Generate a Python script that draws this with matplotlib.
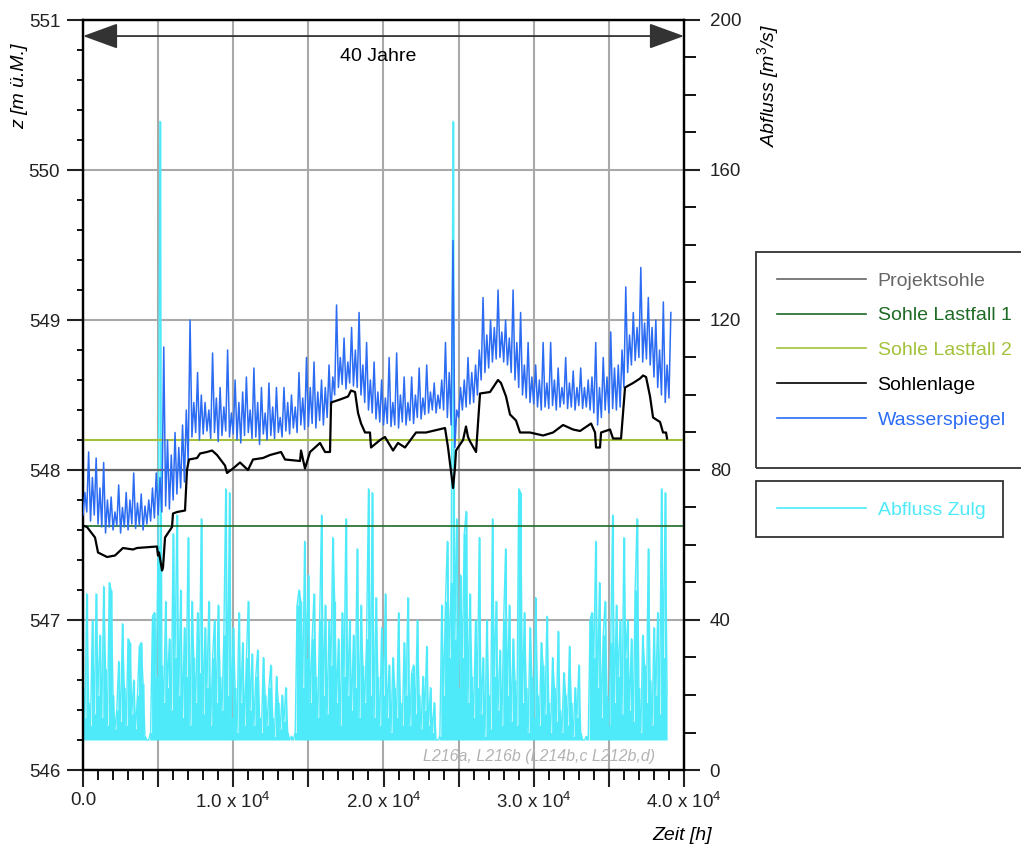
import numpy as np
import matplotlib
matplotlib.use('Agg')
import matplotlib.pyplot as plt
from matplotlib.ticker import MultipleLocator, FuncFormatter
from matplotlib.patches import Rectangle
from matplotlib.lines import Line2D

plt.rcParams['font.family'] = ['Liberation Sans', 'DejaVu Sans']
plt.rcParams['mathtext.fontset'] = 'custom'
plt.rcParams['mathtext.rm'] = 'Liberation Sans'
plt.rcParams['mathtext.it'] = 'Liberation Sans:italic'

# Wasserspiegel [m ü.M.], Raster 125 h
wsp_dt = 125
wasserspiegel = [
    547.70, 547.85, 547.72, 548.12, 547.66, 547.95, 547.70, 548.08, 547.64, 547.88,
    547.62, 548.05, 547.58, 547.80, 547.62, 547.82, 547.60, 547.72, 547.63, 547.90,
    547.58, 547.75, 547.62, 547.85, 547.60, 547.80, 547.64, 547.98, 547.61, 547.78,
    547.63, 547.84, 547.60, 547.76, 547.64, 547.80, 547.66, 547.88, 547.68, 547.98,
    547.70, 547.95, 547.72, 548.82, 547.76, 548.20, 547.74, 548.10, 547.80, 548.25,
    547.84, 548.15, 547.88, 548.30, 547.92, 548.40, 548.05, 549.00, 548.22, 548.45,
    548.25, 548.65, 548.20, 548.50, 548.24, 548.45, 548.26, 548.40, 548.21, 548.78,
    548.25, 548.48, 548.19, 548.55, 548.23, 548.42, 548.26, 548.80, 548.22, 548.38,
    548.24, 548.60, 548.20, 548.45, 548.18, 548.52, 548.23, 548.62, 548.25, 548.40,
    548.21, 548.68, 548.22, 548.45, 548.17, 548.55, 548.24, 548.38, 548.20, 548.58,
    548.23, 548.42, 548.21, 548.55, 548.25, 548.35, 548.22, 548.55, 548.26, 548.45,
    548.24, 548.50, 548.28, 548.42, 548.25, 548.65, 548.30, 548.48, 548.27, 548.75,
    548.29, 548.55, 548.31, 548.72, 548.28, 548.52, 548.33, 548.60, 548.30, 548.55,
    548.35, 548.70, 548.38, 548.62, 548.50, 549.10, 548.55, 548.75, 548.57, 548.88,
    548.54, 548.72, 548.58, 548.95, 548.56, 548.80, 548.55, 549.05, 548.50, 548.70,
    548.45, 548.85, 548.40, 548.60, 548.38, 548.72, 548.34, 548.52, 548.32, 548.60,
    548.30, 548.48, 548.31, 548.75, 548.29, 548.45, 548.30, 548.78, 548.28, 548.50,
    548.32, 548.62, 548.30, 548.45, 548.33, 548.62, 548.31, 548.50, 548.35, 548.68,
    548.34, 548.48, 548.37, 548.70, 548.38, 548.52, 548.40, 548.58, 548.38, 548.50,
    548.41, 548.60, 548.40, 548.85, 548.35, 548.65, 548.30, 549.53, 548.15, 548.40,
    548.35, 548.55, 548.40, 548.60, 548.42, 548.75, 548.44, 548.65, 548.45, 548.70,
    548.50, 548.80, 548.60, 549.15, 548.65, 548.90, 548.68, 549.00, 548.72, 548.95,
    548.74, 549.20, 548.75, 548.92, 548.72, 549.00, 548.70, 548.88, 548.65, 549.20,
    548.60, 548.85, 548.55, 549.05, 548.50, 548.70, 548.48, 548.85, 548.45, 548.62,
    548.44, 548.70, 548.42, 548.60, 548.40, 548.85, 548.42, 548.58, 548.41, 548.85,
    548.43, 548.60, 548.40, 548.68, 548.42, 548.55, 548.44, 548.75, 548.41, 548.58,
    548.42, 548.66, 548.40, 548.55, 548.43, 548.68, 548.41, 548.55, 548.42, 548.60,
    548.40, 548.62, 548.38, 548.85, 548.30, 548.55, 548.35, 548.75, 548.40, 548.62,
    548.38, 548.92, 548.41, 548.68, 548.40, 548.70, 548.42, 548.80, 548.55, 549.22,
    548.65, 548.90, 548.70, 549.05, 548.73, 548.95, 548.75, 549.35, 548.72, 548.98,
    548.74, 549.15, 548.70, 548.95, 548.62, 549.00, 548.55, 548.80, 548.50, 549.12,
    548.45, 548.70, 548.48, 549.05,
]

# Abfluss Zulg [m3/s], Raster 125 h
abfluss_dt = 125
abfluss = [
    22, 14, 47, 18, 12, 40, 15, 47, 20, 36,
    14, 49, 27, 12, 50, 48, 20, 11, 16, 29,
    13, 39, 22, 12, 35, 34, 15, 24, 11, 20,
    33, 34, 23, 9, 8, 8, 10, 41, 42, 25,
    60, 173, 28, 18, 45, 22, 35, 16, 63, 30,
    68, 20, 48, 14, 38, 25, 62, 12, 45, 30,
    18, 42, 26, 67, 15, 38, 22, 45, 12, 30,
    40, 18, 44, 25, 16, 36, 75, 20, 74, 14,
    38, 22, 10, 42, 18, 34, 12, 30, 45, 16,
    31, 12, 25, 32, 14, 10, 30, 20, 12, 22,
    28, 14, 9, 25, 18, 11, 20, 13, 22, 10,
    8, 9, 8, 10, 44, 48, 45, 22, 61, 30,
    52, 18, 35, 47, 25, 14, 40, 68, 20, 44,
    15, 40, 28, 62, 45, 18, 35, 12, 42, 25,
    67, 20, 40, 16, 36, 22, 59, 14, 44, 28,
    18, 35, 75, 20, 74, 14, 46, 25, 12, 38,
    20, 47, 14, 28, 10, 30, 22, 14, 42, 18,
    12, 34, 20, 46, 12, 26, 28, 15, 40, 20,
    11, 25, 16, 33, 12, 22, 10, 18, 8, 8,
    9, 44, 20, 45, 61, 30, 50, 173, 35, 67,
    22, 52, 30, 63, 69, 18, 47, 25, 14, 40,
    22, 62, 15, 30, 9, 40, 20, 11, 67, 25,
    45, 16, 32, 12, 40, 59, 20, 44, 13, 35,
    24, 12, 75, 74, 18, 42, 22, 10, 38, 25,
    14, 46, 20, 12, 34, 28, 15, 41, 18, 10,
    30, 22, 13, 37, 16, 10, 26, 20, 12, 33,
    18, 9, 22, 14, 28, 10, 8, 8, 9, 8,
    40, 42, 30, 61, 22, 50, 14, 36, 45, 20,
    12, 34, 68, 18, 44, 25, 40, 15, 62, 30,
    40, 16, 35, 13, 48, 67, 22, 10, 36, 28,
    18, 59, 24, 12, 38, 20, 42, 15, 75, 30,
    74, 20,
]
abfluss_min = 8.0

# Sohlenlage: Zeit [h] / Kote [m ü.M.]
sohle_t = [0, 266, 800, 1000, 1600, 2130, 2660, 3330, 3590, 4925, 4990, 5060, 5260, 5325,
           5460, 5660, 5925, 5990, 6260, 6790, 6920, 7055, 7590, 7790, 8250, 8590, 8920,
           9450, 9585, 9985, 10450, 10980, 11315, 11980, 12450, 13180, 13445, 14445, 14510,
           14775, 15110, 15775, 16110, 16440, 16510, 17105, 17640, 17840, 18105, 18305,
           18505, 18770, 19100, 19170, 19770, 20100, 20635, 20965, 21430, 22165, 22830,
           24095, 24295, 24630, 24760, 24825, 25295, 25490, 25625, 25760, 26160, 26425,
           27090, 27620, 27820, 28155, 28420, 28820, 29085, 29750, 30620, 31285, 31950,
           32615, 33080, 33815, 34080, 34145, 34410, 34480, 35075, 35275, 35810, 36075,
           36610, 37075, 37275, 37475, 37740, 37940, 38405, 38605, 38805, 38870]
sohle_z = [547.63, 547.62, 547.55, 547.45, 547.42, 547.43, 547.48, 547.47, 547.48, 547.49,
           547.43, 547.45, 547.33, 547.35, 547.55, 547.58, 547.62, 547.71, 547.72, 547.73,
           548.00, 548.07, 548.08, 548.11, 548.12, 548.13, 548.10, 548.03, 547.98, 548.01,
           548.05, 548.00, 548.07, 548.08, 548.10, 548.12, 548.07, 548.06, 548.13, 548.01,
           548.12, 548.18, 548.12, 548.12, 548.45, 548.47, 548.49, 548.53, 548.52, 548.38,
           548.31, 548.25, 548.25, 548.15, 548.20, 548.22, 548.13, 548.18, 548.15, 548.25,
           548.25, 548.28, 548.15, 547.88, 548.02, 548.13, 548.20, 548.29, 548.22, 548.19,
           548.12, 548.51, 548.52, 548.60, 548.58, 548.49, 548.37, 548.33, 548.25, 548.25,
           548.23, 548.25, 548.30, 548.27, 548.26, 548.31, 548.25, 548.15, 548.15, 548.25,
           548.27, 548.21, 548.21, 548.55, 548.58, 548.61, 548.63, 548.62, 548.49, 548.35,
           548.32, 548.25, 548.25, 548.21]

projektsohle = 548.0
sohle_lastfall1 = 547.63
sohle_lastfall2 = 548.20

t_wsp = np.arange(len(wasserspiegel)) * wsp_dt
t_q = np.arange(len(abfluss)) * abfluss_dt

c_blue = '#2b6cf3'
c_cyan = '#4feafa'
c_green1 = '#1d6b25'
c_green2 = '#a3c23a'
c_proj = '#666666'

fig = plt.figure(figsize=(10.21, 8.47), dpi=100)
L, R, T, B = 83 / 1021, 684 / 1021, 20 / 847, 770 / 847
ax = fig.add_axes([L, 1 - B, R - L, B - T])
ax2 = ax.twinx()
ax2.set_zorder(1)
ax.set_zorder(2)
ax.patch.set_visible(False)
ax2.patch.set_visible(True)
ax2.patch.set_facecolor('white')
ax2.xaxis.set_visible(True)

# Abfluss (rechte Achse)
ax2.fill_between(t_q, abfluss_min, abfluss, step='mid', color=c_cyan, lw=0, zorder=2)
ax2.plot(t_q, abfluss, color=c_cyan, lw=1.0, zorder=2)
ax2.set_ylim(0, 200)

# Hoehen (linke Achse)
ax.axhline(projektsohle, color=c_proj, lw=1.6, zorder=2)
ax.axhline(sohle_lastfall1, color=c_green1, lw=1.2, zorder=2)
ax.axhline(sohle_lastfall2, color=c_green2, lw=1.5, zorder=2)
ax.plot(t_wsp, wasserspiegel, color=c_blue, lw=1.1, zorder=3)
ax.plot(sohle_t, sohle_z, color='black', lw=1.6, zorder=4)
ax.set_xlim(0, 40000)
ax.set_ylim(546, 551)

# Achsen / Ticks
ax.xaxis.set_major_locator(MultipleLocator(5000))
ax.xaxis.set_minor_locator(MultipleLocator(1000))


def fmt_x(v, pos):
    if abs(v) < 1:
        return '0.0'
    if abs(v % 10000) < 1:
        return f'{v / 10000:.1f} x 10$^{{4}}$'
    return ''


ax.xaxis.set_major_formatter(FuncFormatter(fmt_x))
ax.yaxis.set_major_locator(MultipleLocator(1))
ax.yaxis.set_minor_locator(MultipleLocator(0.2))
ax2.yaxis.set_major_locator(MultipleLocator(40))
ax2.yaxis.set_minor_locator(MultipleLocator(10))

ax.tick_params(axis='x', which='major', length=12, width=1.5, pad=4, labelsize=13.5, colors='#222222')
ax.tick_params(axis='x', which='minor', length=7, width=1.3)
ax.tick_params(axis='y', which='major', length=11.5, width=1.5, pad=5, labelsize=13.5, colors='#222222')
ax.tick_params(axis='y', which='minor', length=4.5, width=1.3)
ax2.tick_params(axis='y', which='major', length=11.5, width=1.5, pad=7, labelsize=13.5, colors='#222222')
ax2.tick_params(axis='y', which='minor', length=8.5, width=1.3)
ax2.tick_params(axis='x', which='both', bottom=False, top=False, labelbottom=False, labeltop=False)

ax2.set_axisbelow(True)
ax2.grid(True, which='major', axis='both', color='#a9a9a9', lw=1.5)

for a in (ax, ax2):
    for s in a.spines.values():
        s.set_linewidth(1.6)
        s.set_color('black')

# Pfeil 40 Jahre
ax.annotate('', xy=(0, 550.893), xytext=(40000, 550.893),
            arrowprops=dict(arrowstyle='<|-|>,head_length=1.1,head_width=0.4',
                            mutation_scale=20, color='#333333', lw=1.3,
                            shrinkA=0, shrinkB=0), zorder=5)
ax.text(19640, 550.76, '40 Jahre', ha='center', va='center', fontsize=14, color='black')
ax.text(38100, 546.093, 'L216a, L216b (L214b,c L212b,d)', ha='right', va='center',
        fontsize=11.5, style='italic', color='#b3b3b3', zorder=5)

# Achsentitel
fig.text(20 / 1021, 1 - 86 / 847, 'z [m ü.M.]', rotation=90, ha='center', va='center',
         fontsize=14, style='italic')
fig.text(768 / 1021, 1 - 85 / 847, 'Abfluss [m$^{3}$/s]', rotation=90, ha='center',
         va='center', fontsize=14, style='italic')
fig.text(712 / 1021, 1 - 835 / 847, 'Zeit [h]', ha='right', va='center', fontsize=14,
         style='italic')

# Legenden
h1 = [Line2D([], [], color=c_proj, lw=1.2), Line2D([], [], color=c_green1, lw=1.2),
      Line2D([], [], color=c_green2, lw=1.2), Line2D([], [], color='black', lw=1.2),
      Line2D([], [], color=c_blue, lw=1.2)]
l1 = ['Projektsohle', 'Sohle Lastfall 1', 'Sohle Lastfall 2', 'Sohlenlage', 'Wasserspiegel']
leg1 = fig.legend(h1, l1, loc='upper left', bbox_to_anchor=(777 / 1021, 1 - 272 / 847),
                  frameon=False, fontsize=14, handlelength=4.6, handletextpad=0.57,
                  labelspacing=0.88, borderpad=0, borderaxespad=0, labelcolor='linecolor')
leg2 = fig.legend([Line2D([], [], color=c_cyan, lw=1.2)], ['Abfluss Zulg'], loc='upper left',
                  bbox_to_anchor=(777 / 1021, 1 - 501 / 847), frameon=False, fontsize=14,
                  handlelength=4.6, handletextpad=0.57, borderpad=0, borderaxespad=0,
                  labelcolor='linecolor')
fig.add_artist(Rectangle((756 / 1021, 1 - 468 / 847), 270 / 1021, 216 / 847,
                         transform=fig.transFigure, fill=False, ec='#333333', lw=1.3))
fig.add_artist(Rectangle((756 / 1021, 1 - 537 / 847), 247 / 1021, 56 / 847,
                         transform=fig.transFigure, fill=False, ec='#333333', lw=1.3))

fig.savefig('out.png', dpi=100, facecolor='white')
